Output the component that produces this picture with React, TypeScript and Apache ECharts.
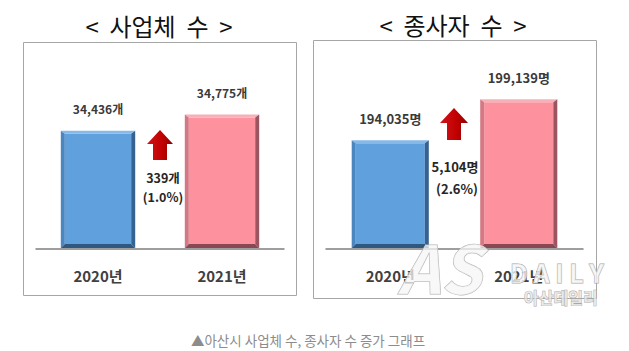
import React, { useEffect, useRef } from "react";
import * as echarts from "echarts";

const years = ["2020년", "2021년"];
const businesses = [34436, 34775];
const workers = [194035, 199139];
const businessUnit = "개";
const workerUnit = "명";
const titles = ["< 사업체 수 >", "< 종사자 수 >"];
const caption = "▲아산시 사업체 수, 종사자 수 증가 그래프";

const FONT = "'Noto Sans CJK KR', 'Noto Sans', sans-serif";

const palettes = [
  { face: "#5fa0dd", top: "#86b9e8", left: "#4c86c0", right: "#35628f", bottom: "#2f5880" },
  { face: "#fd919e", top: "#f8b0b8", left: "#d57884", right: "#9a5560", bottom: "#8a4852" },
];

const fmt = (v: number) => v.toLocaleString("en-US");

function bevelBar(unit: string, fontSize: number) {
  return (params: any, api: any) => {
    const cat = api.value(0);
    const v = api.value(1);
    const pal = palettes[cat];
    const [cx, yTop] = api.coord([cat, v]);
    const cs = params.coordSys;
    const yBot = cs.y + cs.height - 1;
    const bw = api.size([1, 0])[0] * 0.6;
    const x0 = cx - bw / 2;
    const x1 = cx + bw / 2;
    const b = 4;
    const t = 3;
    const poly = (pts: number[][], fill: string) => ({
      type: "polygon",
      shape: { points: pts },
      style: { fill },
    });
    return {
      type: "group",
      children: [
        {
          type: "rect",
          shape: { x: x0 + b, y: yTop + t, width: bw - 2 * b, height: yBot - yTop - t - b },
          style: { fill: pal.face },
        },
        poly([[x0, yTop], [x1, yTop], [x1 - b, yTop + t], [x0 + b, yTop + t]], pal.top),
        poly([[x0, yTop], [x0 + b, yTop + t], [x0 + b, yBot - b], [x0, yBot]], pal.left),
        poly([[x1, yTop], [x1, yBot], [x1 - b, yBot - b], [x1 - b, yTop + t]], pal.right),
        poly([[x0, yBot], [x0 + b, yBot - b], [x1 - b, yBot - b], [x1, yBot]], pal.bottom),
        {
          type: "text",
          x: cx,
          y: yTop - 22,
          style: {
            text: fmt(v) + unit,
            fill: "#3a3a3a",
            font: `bold ${fontSize}px ${FONT}`,
            align: "center",
            verticalAlign: "middle",
          },
        },
      ],
    };
  };
}

function arrow(cx: number, tip: number, headBase: number, bottom: number, headHalf: number, shaftHalf: number) {
  return {
    type: "polygon",
    shape: {
      points: [
        [cx, tip],
        [cx + headHalf, headBase],
        [cx + shaftHalf, headBase],
        [cx + shaftHalf, bottom],
        [cx - shaftHalf, bottom],
        [cx - shaftHalf, headBase],
        [cx - headHalf, headBase],
      ],
    },
    style: {
      fill: new echarts.graphic.LinearGradient(0, 0, 1, 0, [
        { offset: 0, color: "#d0141c" },
        { offset: 0.6, color: "#c00000" },
        { offset: 1, color: "#8a0000" },
      ]),
    },
  };
}

export default function App() {
  const ref = useRef<HTMLDivElement>(null);
  useEffect(() => {
    if (!ref.current) return;
    const chart = echarts.init(ref.current, null, { renderer: "svg" });
    const bDiff = businesses[1] - businesses[0];
    const wDiff = workers[1] - workers[0];
    const bPct = ((bDiff / businesses[0]) * 100).toFixed(1);
    const wPct = ((wDiff / workers[0]) * 100).toFixed(1);

    const xAxisCommon = {
      type: "category",
      data: years,
      axisTick: { show: false },
      axisLine: { lineStyle: { color: "#7f7f7f", width: 1.5 } },
      axisLabel: { color: "#404040", fontWeight: "bold", fontSize: 15, fontFamily: FONT, margin: 19 },
    };
    const txt = (x: number, y: number, text: string, size: number, weight = "bold", color = "#262626") => ({
      type: "text",
      x,
      y,
      style: { text, fill: color, font: `${weight} ${size}px ${FONT}`, align: "center", verticalAlign: "middle" },
    });

    chart.setOption({
      animation: false,
      backgroundColor: "#ffffff",
      grid: [
        { left: 36, width: 248, top: 55, bottom: 102 },
        { left: 326, width: 257, top: 52, bottom: 102 },
      ],
      xAxis: [
        { ...xAxisCommon, gridIndex: 0 },
        { ...xAxisCommon, gridIndex: 1 },
      ],
      yAxis: [
        { type: "value", gridIndex: 0, min: 32000, max: 36000, show: false, splitLine: { show: false } },
        { type: "value", gridIndex: 1, min: 180500, max: 205000, show: false, splitLine: { show: false } },
      ],
      series: [
        {
          type: "custom",
          xAxisIndex: 0,
          yAxisIndex: 0,
          renderItem: bevelBar(businessUnit, 12),
          data: businesses.map((v, i) => [i, v]),
          z: 3,
        },
        {
          type: "custom",
          xAxisIndex: 1,
          yAxisIndex: 1,
          renderItem: bevelBar(workerUnit, 13),
          data: workers.map((v, i) => [i, v]),
          z: 3,
        },
      ],
      graphic: [
        { type: "rect", shape: { x: 23.5, y: 42.5, width: 273, height: 253 }, style: { fill: "none", stroke: "#a6a6a6", lineWidth: 1 }, z: 1 },
        { type: "rect", shape: { x: 313.5, y: 40.5, width: 283, height: 258 }, style: { fill: "none", stroke: "#a6a6a6", lineWidth: 1 }, z: 1 },
        txt(159, 25, titles[0].replace(/ /g, "  "), 24, "normal", "#111"),
        txt(453, 24, titles[1].replace(/ /g, "  "), 24, "normal", "#111"),
        arrow(160, 130, 144, 160, 13, 7),
        arrow(454, 108, 123, 140, 14, 7),
        txt(163, 177, fmt(bDiff) + businessUnit, 12.5),
        txt(163, 196, `(${bPct}%)`, 12.5),
        txt(455, 166, fmt(wDiff) + workerUnit, 13),
        txt(457, 188, `(${wPct}%)`, 13),
        txt(308, 340, caption, 13.5, "normal", "#8c8c8c"),
        {
          type: "text",
          x: 398,
          y: 232,
          z: 10,
          style: {
            text: "AS",
            font: `italic bold 66px ${FONT}`,
            fill: "rgba(245,245,245,0.75)",
            stroke: "#b0b0b0",
            lineWidth: 1,
          },
        },
        {
          type: "text",
          x: 510,
          y: 259,
          z: 10,
          style: {
            text: "D A I L Y",
            font: `bold 25px ${FONT}`,
            fill: "rgba(245,245,245,0.8)",
            stroke: "#a8a8a8",
            lineWidth: 1,
          },
        },
        {
          type: "text",
          x: 524,
          y: 289,
          z: 10,
          style: {
            text: "아산데일리",
            font: `bold 16px ${FONT}`,
            fill: "rgba(235,235,235,0.8)",
            stroke: "#a8a8a8",
            lineWidth: 0.8,
          },
        },
      ],
    });
    return () => chart.dispose();
  }, []);
  return <div ref={ref} style={{ position: "absolute", left: 0, top: 0, width: 629, height: 351 }} />;
}
